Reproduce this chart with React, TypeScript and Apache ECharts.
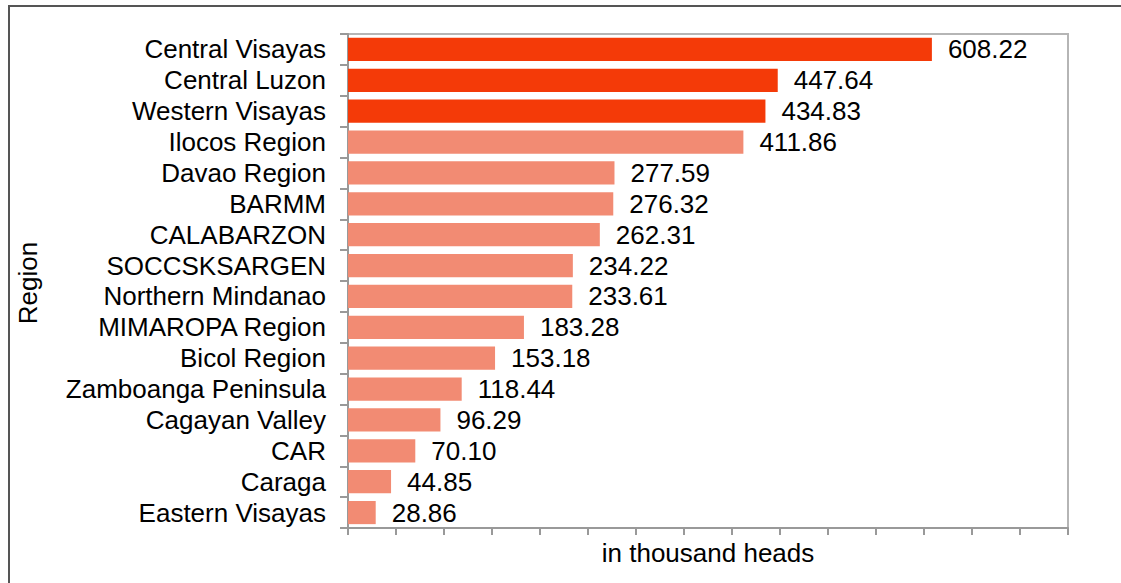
import React, { useEffect, useRef } from "react";
import * as echarts from "echarts";

const regions = [
  "Central Visayas",
  "Central Luzon",
  "Western Visayas",
  "Ilocos Region",
  "Davao Region",
  "BARMM",
  "CALABARZON",
  "SOCCSKSARGEN",
  "Northern Mindanao",
  "MIMAROPA Region",
  "Bicol Region",
  "Zamboanga Peninsula",
  "Cagayan Valley",
  "CAR",
  "Caraga",
  "Eastern Visayas",
];

const values = [
  608.22, 447.64, 434.83, 411.86, 277.59, 276.32, 262.31, 234.22, 233.61,
  183.28, 153.18, 118.44, 96.29, 70.1, 44.85, 28.86,
];

const highlightCount = 3;
const xAxisTitle = "in thousand heads";
const yAxisTitle = "Region";

export default function App() {
  const ref = useRef<HTMLDivElement>(null);
  useEffect(() => {
    if (!ref.current) return;
    const chart = echarts.init(ref.current, null, { renderer: "svg" });
    const font = "'Liberation Sans', Arial, sans-serif";
    chart.setOption({
      animation: false,
      textStyle: { fontFamily: font },
      grid: { left: 348, right: 53, top: 34, bottom: 55, show: true, borderColor: "#b5b5b5", borderWidth: 2, containLabel: false },
      xAxis: {
        type: "value",
        min: 0,
        max: 750,
        interval: 50,
        name: xAxisTitle,
        nameLocation: "middle",
        nameGap: 12,
        nameTextStyle: { fontSize: 26, color: "#000", fontFamily: font, verticalAlign: "top" },
        axisLine: { show: true, lineStyle: { color: "#999", width: 2 } },
        axisTick: { show: true, length: 7, lineStyle: { color: "#999", width: 2 } },
        axisLabel: { show: false },
        splitLine: { show: false },
      },
      yAxis: {
        type: "category",
        data: regions,
        inverse: true,
        axisLine: { show: true, lineStyle: { color: "#999", width: 2 } },
        axisTick: { show: true, length: 8, lineStyle: { color: "#999", width: 2 } },
        axisLabel: { interval: 0, fontSize: 26, color: "#000", margin: 22, fontFamily: font },
        splitLine: { show: false },
      },
      graphic: [
        {
          type: "rect",
          shape: { x: 9, y: 6, width: 1200, height: 700 },
          style: { fill: "none", stroke: "#555", lineWidth: 2 },
          silent: true,
        },
        {
          type: "text",
          x: 28,
          y: 283,
          rotation: Math.PI / 2,
          style: {
            text: yAxisTitle,
            fontSize: 26,
            fontFamily: font,
            fill: "#000",
            textAlign: "center",
            textVerticalAlign: "middle",
          },
        },
      ],
      series: [
        {
          type: "bar",
          data: values.map((v, i) => ({
            value: v,
            itemStyle: { color: i < highlightCount ? "#F43A08" : "#F28B73" },
          })),
          barCategoryGap: "25%",
          label: {
            show: true,
            position: "right",
            distance: 16,
            fontSize: 26,
            color: "#000",
            fontFamily: font,
            formatter: (p: any) => Number(p.value).toFixed(2),
          },
        },
      ],
    });
    return () => chart.dispose();
  }, []);
  return (
    <div
      ref={ref}
      style={{ position: "absolute", left: 0, top: 0, width: 1121, height: 583, background: "#fff" }}
    />
  );
}
